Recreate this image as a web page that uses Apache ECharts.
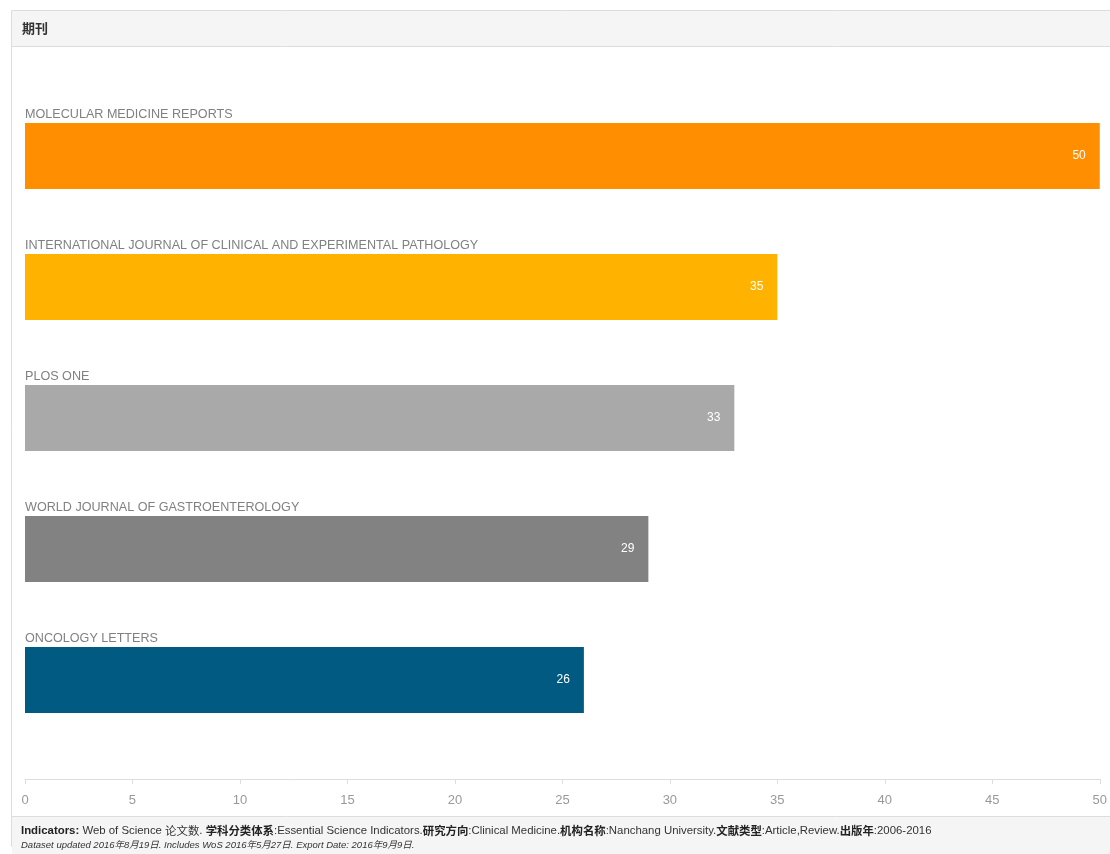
<!DOCTYPE html>
<html><head><meta charset="utf-8">
<script src="https://cdn.jsdelivr.net/npm/echarts@6/dist/echarts.min.js"></script>
<style>html,body{margin:0;padding:0;background:#fff;}#c{width:1110px;height:854px;}</style>
</head><body><div id="c"></div>
<script>
var categories = ['MOLECULAR MEDICINE REPORTS','INTERNATIONAL JOURNAL OF CLINICAL AND EXPERIMENTAL PATHOLOGY','PLOS ONE','WORLD JOURNAL OF GASTROENTEROLOGY','ONCOLOGY LETTERS'];
var values = [50, 35, 33, 29, 26];
var colors = ['#ff8f00', '#ffb300', '#a9a9a9', '#828282', '#005a82'];
var xTicks = [0, 5, 10, 15, 20, 25, 30, 35, 40, 45, 50];
var FONT = 'Arial, "Liberation Sans", sans-serif';

var chart = echarts.init(document.getElementById('c'), null, {renderer:'canvas'});
chart.setOption({
  backgroundColor: '#fff',
  animation: false,
  grid: {left: 25, right: 10, top: 90.5, bottom: 108.5, containLabel: false},
  xAxis: {
    type: 'value', min: xTicks[0], max: xTicks[xTicks.length-1], interval: 5,
    offset: 33.5,
    axisLine: {show: true, lineStyle: {color: '#dddddd'}},
    axisTick: {show: true, length: 5, lineStyle: {color: '#dddddd'}},
    splitLine: {show: false},
    axisLabel: {color: '#999999', fontSize: 13, fontFamily: FONT, margin: 15}
  },
  yAxis: {
    type: 'category', data: categories, inverse: true,
    axisLine: {show: false}, axisTick: {show: false}, axisLabel: {show: false}
  },
  series: [
    {
      type: 'bar', barWidth: 66,
      data: values.map(function(v, i){ return {value: v, itemStyle: {color: colors[i]}}; }),
      label: {show: true, position: 'insideRight', distance: 14, color: '#fff', fontSize: 12, fontFamily: FONT}
    },
    {
      type: 'bar', barWidth: 66, barGap: '-100%', silent: true,
      data: values,
      itemStyle: {color: 'rgba(0,0,0,0)'},
      label: {show: true, position: [0, -2], align: 'left', verticalAlign: 'bottom', formatter: '{b}',
        color: '#808080', fontSize: 12.6, fontFamily: FONT}
    }
  ],
  graphic: [
    {type: 'rect', shape: {x: 11.5, y: 10.5, width: 1110, height: 836}, style: {fill: 'none', stroke: '#dddddd', lineWidth: 1}, z: 0},
    {type: 'rect', shape: {x: 12, y: 11, width: 1098, height: 35}, style: {fill: '#f5f5f5'}, z: 1},
    {type: 'line', shape: {x1: 12, y1: 46.5, x2: 1110, y2: 46.5}, style: {stroke: '#dddddd', lineWidth: 1}, z: 2},
    {type: 'text', left: 22, top: 22, style: {text: '期刊', fontSize: 13, fontWeight: 'bold', fill: '#333', fontFamily: '"Noto Sans CJK SC", sans-serif'}, z: 3},
    {type: 'rect', shape: {x: 12, y: 817, width: 1098, height: 37}, style: {fill: '#f5f5f5'}, z: 1},
    {type: 'line', shape: {x1: 12, y1: 816.5, x2: 1110, y2: 816.5}, style: {stroke: '#dddddd', lineWidth: 1}, z: 2},
    {type: 'text', left: 21, top: 825, z: 3, style: {
      rich: {
        b: {fontWeight: 'bold', fontSize: 11.4, lineHeight: 14, verticalAlign: 'middle', fill: '#222', fontFamily: FONT},
        n: {fontSize: 11.4, lineHeight: 14, verticalAlign: 'middle', fill: '#333', fontFamily: FONT},
        c: {fontSize: 11.4, lineHeight: 14, verticalAlign: 'middle', fill: '#333', fontFamily: '"Noto Sans CJK SC", sans-serif'},
        cb: {fontSize: 11.4, lineHeight: 14, verticalAlign: 'middle', fill: '#222', fontWeight: 'bold', fontFamily: '"Noto Sans CJK SC", sans-serif'}
      },
      text: '{b|Indicators: }{n|Web of Science }{c|论文数}{n|. }{cb|学科分类体系}{n|:Essential Science Indicators.}{cb|研究方向}{n|:Clinical Medicine.}{cb|机构名称}{n|:Nanchang University.}{cb|文献类型}{n|:Article,Review.}{cb|出版年}{n|:2006-2016}'
    }},
    {type: 'text', left: 21, top: 841, z: 3, style: {
      text: 'Dataset updated 2016年8月19日. Includes WoS 2016年5月27日. Export Date: 2016年9月9日.',
      fontSize: 9.5, fontStyle: 'italic', fill: '#333', fontFamily: FONT + ', "Noto Sans CJK SC"'
    }}
  ]
});
</script></body></html>
